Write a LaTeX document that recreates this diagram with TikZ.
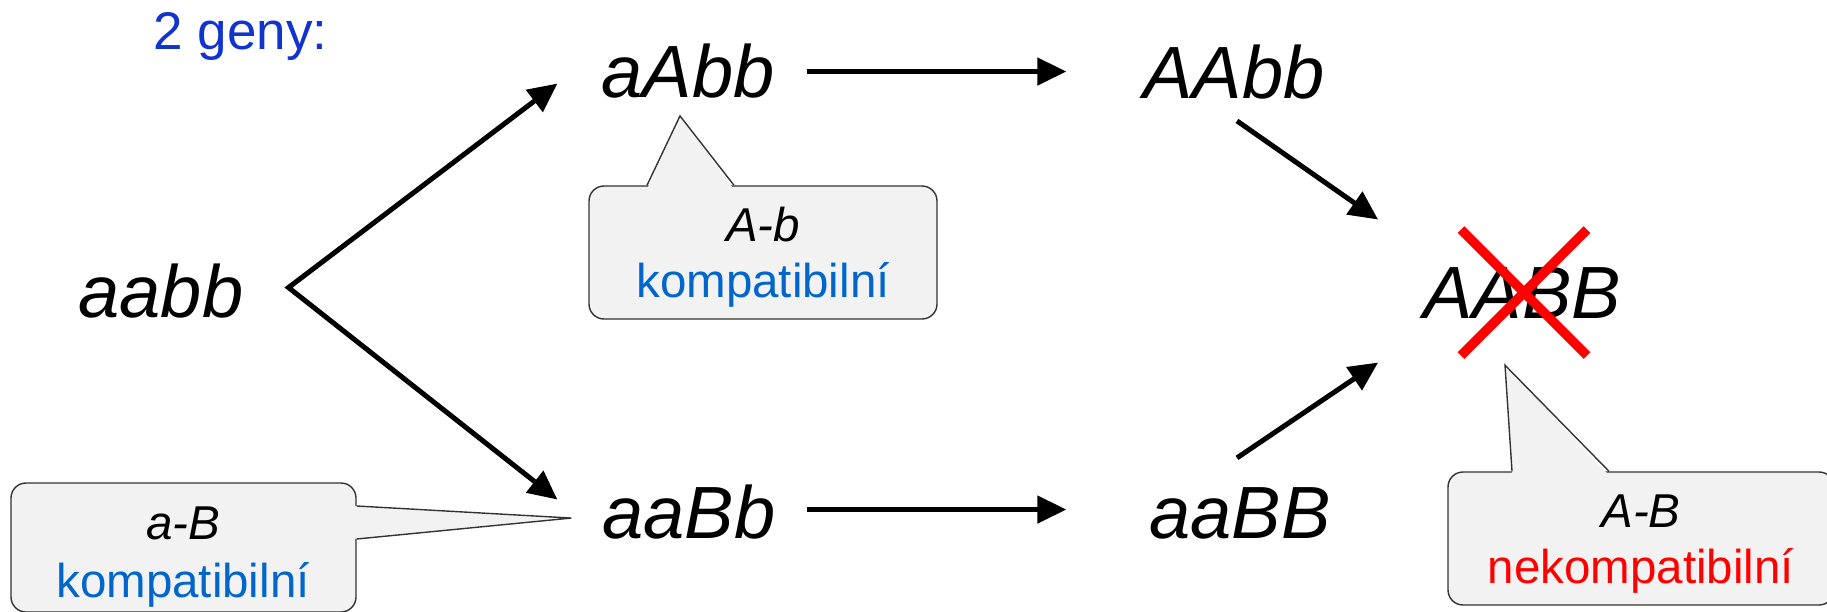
\documentclass[tikz,border=0pt]{standalone}
\usepackage{fontspec}
\setmainfont{Liberation Sans}
\usetikzlibrary{arrows.meta,calc}
\providecommand{\Ink}{000000}
\providecommand{\Title}{1034CC}
\providecommand{\Good}{0066CC}
\providecommand{\Bad}{FF0000}
\providecommand{\Paper}{F2F2F2}
\providecommand{\Rim}{333333}
\newcommand{\Unit}{1pt}
\newcommand{\Stroke}{5pt}
\newcommand{\Corner}{15pt}
\definecolor{ink}{HTML}{\Ink}
\definecolor{title}{HTML}{\Title}
\definecolor{good}{HTML}{\Good}
\definecolor{bad}{HTML}{\Bad}
\definecolor{paper}{HTML}{\Paper}
\definecolor{rim}{HTML}{\Rim}

\tikzset{
  geno/.style={font=\fontsize{74}{80}\selectfont\itshape, inner sep=0pt, anchor=base},
  flow/.style={ink, line width=\Stroke},
  callbox/.style 2 args={fill=paper, draw=rim, line width=1.4pt, rounded corners=\Corner,
    inner sep=0pt, minimum width=#1, minimum height=#2},
  calltext/.style={font=\fontsize{47.5}{56}\selectfont, inner sep=0pt, anchor=base},
  >={Triangle[length=29pt,width=27pt]}
}

\begin{document}
\begin{tikzpicture}[x=\Unit,y=-\Unit, line join=miter]
  \useasboundingbox (0,0) rectangle (1827,612);

  % ---- heading ------------------------------------------------------------
  \node[font=\fontsize{53}{58}\selectfont, text=title, inner sep=0pt, anchor=base west]
    (heading) at (153.5,50) {2 geny:};

  % ---- genotypes ----------------------------------------------------------
  \node[geno] (aabb) at (161,317) {aabb};
  \node[geno] (aAbb) at (688,98) {aAbb};
  \node[geno] (AAbb) at (1234,99) {AAbb};
  \node[geno] (AABB) at (1522,318) {AABB};
  \node[geno] (aaBb) at (689,538) {aaBb};
  \node[geno] (aaBB) at (1240,538) {aaBB};

  % ---- paths --------------------------------------------------------------
  \draw[flow,<->] ($(aAbb.west)+(-44,12)$) -- ($(aabb.east)+(45,-3)$) -- ($(aaBb.west)+(-45,-12)$);
  \draw[flow,->] ($(aAbb.east)+(32,0)$) -- ($(aAbb.east -| AAbb.west)+(-77,0)$);
  \draw[flow,->] ($(aaBb.east)+(31,-2)$) -- ($(aaBb.east -| aaBB.west)+(-83,-2)$);
  \draw[flow,->] ($(AAbb.south)+(3,21)$) -- ($(AABB.west)+(-45,-73)$);
  \draw[flow,->] ($(aaBB.north)+(-3,-29)$) -- ($(AABB.west)+(-45,70)$);

  % ---- the cross ----------------------------------------------------------
  \draw[bad,line width=9.5pt] ($(AABB.center)+(-61,-63)$) -- ($(AABB.center)+(65,63)$);
  \draw[bad,line width=9.5pt] ($(AABB.center)+(65,-63)$) -- ($(AABB.center)+(-61,63)$);

  % ---- callouts -----------------------------------------------------------
  \node[callbox={348pt}{133pt}] (abbox) at (763,252.5) {};
  \coordinate (abtip) at ($(aAbb.south)+(-8,17)$);
  \fill[paper] ($(abbox.north)+(-116,4)$) -- (abtip) -- ($(abbox.north)+(-29,4)$) -- cycle;
  \draw[rim,line width=1.4pt] ($(abbox.north)+(-116,0)$) -- (abtip) -- ($(abbox.north)+(-29,0)$);
  \node[calltext] (ab) at (763,242) {\itshape A-b};
  \node[calltext,text=good] (abnote) at (763,297) {kompatibilní};

  \node[callbox={345pt}{129pt}] (aBbox) at (183.5,547.5) {};
  \coordinate (aBtip) at ($(aaBb.west)+(-31,6.5)$);
  \fill[paper] ($(aBbox.east)+(-4,-41.5)$) -- (aBtip) -- ($(aBbox.east)+(-4,-8.5)$) -- cycle;
  \draw[rim,line width=1.4pt] ($(aBbox.east)+(0,-41.5)$) -- (aBtip) -- ($(aBbox.east)+(0,-8.5)$);
  \node[calltext] (aB) at (183,539) {\itshape a-B};
  \node[calltext,text=good] (aBnote) at (183,597) {kompatibilní};

  \node[callbox={386pt}{133pt}] (ABbox) at (1641,538.5) {};
  \coordinate (ABtip) at ($(AABB.south)+(-17,47)$);
  \fill[paper] ($(ABbox.north)+(-129,4)$) -- (ABtip) -- ($(ABbox.north)+(-32,4)$) -- cycle;
  \draw[rim,line width=1.4pt] ($(ABbox.north)+(-129,0)$) -- (ABtip) -- ($(ABbox.north)+(-32,0)$);
  \node[calltext] (AB) at (1641,527) {\itshape A-B};
  \node[calltext,text=bad] (ABnote) at (1641,583) {nekompatibilní};

\end{tikzpicture}
\end{document}
